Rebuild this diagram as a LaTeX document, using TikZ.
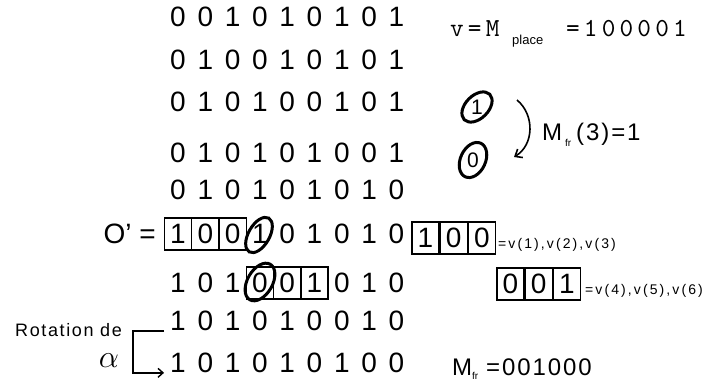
\RequirePackage{fix-cm}
\documentclass[tikz,border=0pt]{standalone}
\usepackage{fontspec}
\usepackage{tikz}
\usetikzlibrary{positioning,calc,arrows.meta,shapes.geometric}
\newfontfamily\arialfont{Liberation Sans}
\newfontfamily\arialwide[LetterSpace=8]{Liberation Sans}
\newfontfamily\arialloose[LetterSpace=15]{Liberation Sans}
\newfontfamily\arialrot[LetterSpace=9]{Liberation Sans}
\newfontfamily\typefont[LetterSpace=16]{lmmono10-regular.otf}

\begin{document}
\begin{tikzpicture}[x=1pt, y=-1pt,
    bit/.style={font=\arialfont\fontsize{28}{32}\selectfont, inner sep=0pt},
    cellbox/.style={draw, line width=1.2pt, minimum width=27pt, minimum height=32pt, inner sep=0pt},
    ringmark/.style={draw, ellipse, line width=3pt, inner sep=0pt},
    ringbit/.style={font=\arialfont\fontsize{21}{24}\selectfont, inner sep=0pt},
    mtext/.style={font=\arialwide\fontsize{24}{28}\selectfont, inner sep=0pt, anchor=base west},
    subtext/.style={font=\arialfont\fontsize{10}{12}\selectfont, inner sep=0pt, anchor=base west},
    vtext/.style={font=\arialloose\fontsize{14}{16}\selectfont, inner sep=0pt, anchor=base west},
    ttext/.style={font=\typefont\fontsize{26}{30}\selectfont, inner sep=0pt, anchor=base west}]
  \useasboundingbox (0,0) rectangle (709,380);
  % the shifted words, one row each
  \foreach \r/\y/\w in {1/17/{0,0,1,0,1,0,1,0,1}, 2/60/{0,1,0,0,1,0,1,0,1},
      3/102/{0,1,0,1,0,0,1,0,1}, 4/153/{0,1,0,1,0,1,0,0,1}, 5/190/{0,1,0,1,0,1,0,1,0},
      6/234/{1,0,0,1,0,1,0,1,0}, 7/283/{1,0,1,0,0,1,0,1,0}, 8/321/{1,0,1,0,1,0,0,1,0},
      9/363/{1,0,1,0,1,0,1,0,0}}
     \foreach \d [count=\i from 0] in \w
        \node[bit] (d\r-\i) at (178+27.3*\i,\y) {\d};
  \node[bit, anchor=east] (oprime) at (156,234) {O’ =};
  % framed windows
  \foreach \i in {0,1,2}
     \node[cellbox] (b6-\i) at (d6-\i) {};
  \foreach \i in {3,4,5}
     \node[cellbox] (b7-\i) at (d7-\i) {};
  \node[ringmark, rotate=60, minimum width=39pt, minimum height=21pt] (ring6) at (259,235) {};
  \node[ringmark, rotate=60, minimum width=41pt, minimum height=25pt] (ring7) at (260,282) {};
  % extracted values
  \node[cellbox, bit] (va1) at (425.5,238) {1};
  \node[cellbox, bit, right=0pt of va1] (va2) {0};
  \node[cellbox, bit, right=0pt of va2] (va3) {0};
  \node[vtext] (vlab1) at (498,248) {=v(1),v(2),v(3)};
  \node[cellbox, bit] (vb1) at (510.5,284) {0};
  \node[cellbox, bit, right=0pt of vb1] (vb2) {0};
  \node[cellbox, bit, right=0pt of vb2] (vb3) {1};
  \node[vtext] (vlab2) at (585,294) {=v(4),v(5),v(6)};
  % place vector
  \node[ttext] (vM) at (450,36) {v=M};
  \node[font=\arialfont\fontsize{13}{15}\selectfont, inner sep=0pt, anchor=base west] (vplace) at (512,44) {place};
  \node[ttext] (vval) at (566,36) {=100001};
  % flipped bit
  \node[ringmark, rotate=45, minimum width=36pt, minimum height=23pt] (ring1) at (477,107) {};
  \node[ringbit] (rb1) at (ring1) {1};
  \node[ringmark, rotate=65, minimum width=37pt, minimum height=25pt] (ring0) at (473,160) {};
  \node[ringbit] (rb0) at (ring0) {0};
  \coordinate (arcS) at (517,100);
  \coordinate (arcE) at (514,157);
  \draw[line width=1.6pt, -{Straight Barb[length=6pt,width=10pt]}]
     (arcS) .. controls (535,115) and (534,145) .. (arcE);
  \node[mtext] (mfrM) at (542,140) {M};
  \node[subtext] (mfrsub) at (565,146) {fr};
  \node[mtext] (mfrval) at (576,140) {(3)=1};
  % rotation bracket
  \node[font=\arialrot\fontsize{18}{21}\selectfont, inner sep=0pt, anchor=base east] (rotlab) at (122,336) {Rotation de};
  \node[font=\fontsize{32}{38}\selectfont, inner sep=0pt] (alph) at (109,361) {$\alpha$};
  \draw[line width=1.4pt, -{Straight Barb[length=5pt,width=9pt]}]
     ($(d8-0.south west)+(-6,0)$) -- ++(-31,0) |- ($(d9-0.south west)+(-6,0)$);
  \node[mtext] (mfrM2) at (452,375) {M};
  \node[subtext] (mfrsub2) at (472,379) {fr};
  \node[mtext] (mfrres) at (486,375) {=001000};
\end{tikzpicture}
\end{document}
